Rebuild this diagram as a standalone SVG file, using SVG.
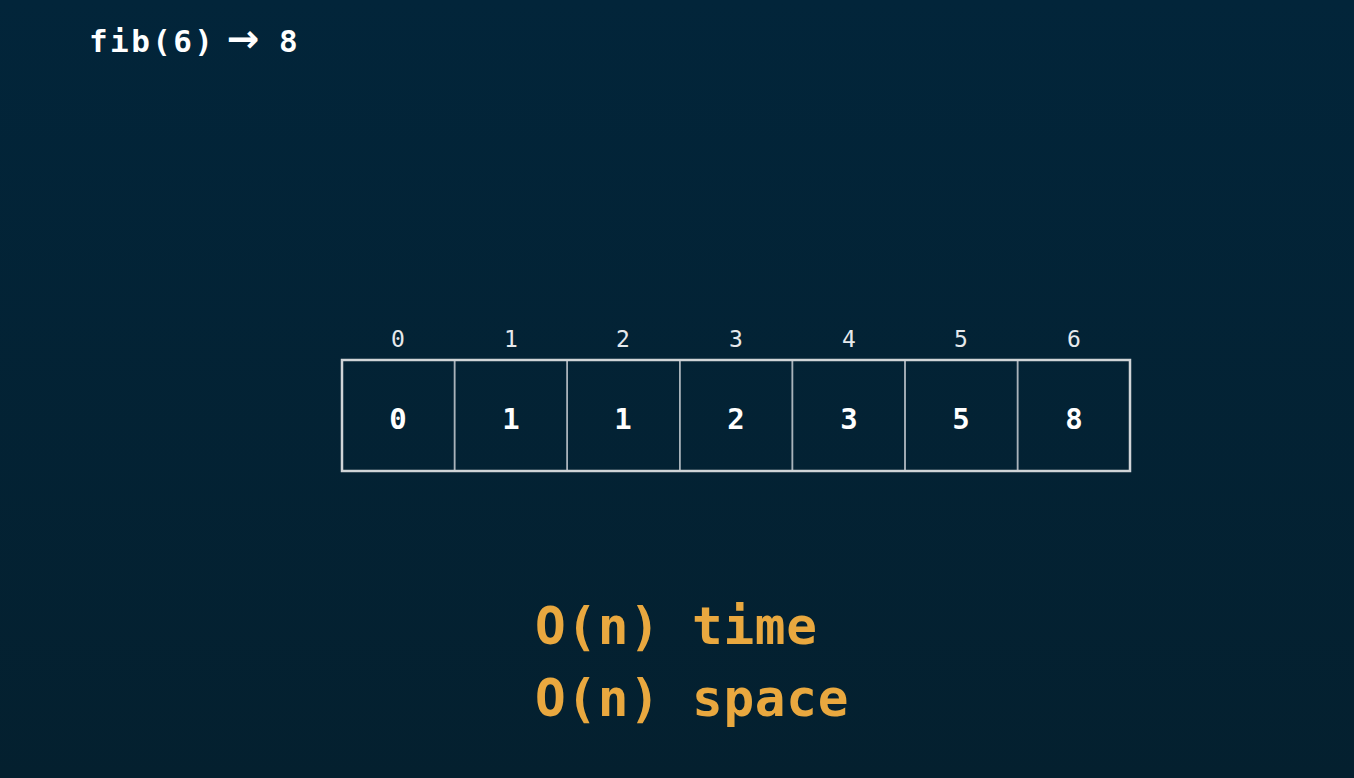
<svg xmlns="http://www.w3.org/2000/svg" width="1354" height="778" viewBox="0 0 1354 778">
  <defs>
    <linearGradient id="bg" x1="0" y1="0" x2="0" y2="1">
      <stop offset="0" stop-color="#02253a"/>
      <stop offset="1" stop-color="#04202f"/>
    </linearGradient>
    <style>
      .mono { font-family: "DejaVu Sans Mono", "Liberation Mono", monospace; }
      .title { font-size: 31px; font-weight: bold; fill: #ffffff; letter-spacing: 2.4px; }
      .arrow { font-family: "DejaVu Sans", sans-serif; font-size: 39px; letter-spacing: 0; }
      .idx { font-size: 23px; fill: #e6e9ec; text-anchor: middle; }
      .val { font-size: 29px; font-weight: bold; fill: #ffffff; text-anchor: middle; }
      .cx { font-size: 51px; font-weight: bold; fill: #e9a83f; letter-spacing: 0.7px; }
      .cell { fill: none; stroke: #a9b3ba; stroke-width: 1.5; }
      .outer { fill: none; stroke: #d0d4d7; stroke-width: 2.5; }
    </style>
  </defs>
  <rect width="1354" height="778" fill="url(#bg)"/>
  <text id="title" class="mono title" x="89" y="52">fib(6)<tspan class="arrow" x="213"> →</tspan><tspan x="258"> 8</tspan></text>
  <g id="array">
    <g id="cell0"><rect class="cell" x="342" y="360" width="112.6" height="111"/><text class="mono idx" x="398" y="347">0</text><text class="mono val" x="398" y="429">0</text></g>
    <g id="cell1"><rect class="cell" x="454.6" y="360" width="112.6" height="111"/><text class="mono idx" x="511" y="347">1</text><text class="mono val" x="511" y="429">1</text></g>
    <g id="cell2"><rect class="cell" x="567.2" y="360" width="112.6" height="111"/><text class="mono idx" x="623" y="347">2</text><text class="mono val" x="623" y="429">1</text></g>
    <g id="cell3"><rect class="cell" x="679.8" y="360" width="112.6" height="111"/><text class="mono idx" x="736" y="347">3</text><text class="mono val" x="736" y="429">2</text></g>
    <g id="cell4"><rect class="cell" x="792.4" y="360" width="112.6" height="111"/><text class="mono idx" x="849" y="347">4</text><text class="mono val" x="849" y="429">3</text></g>
    <g id="cell5"><rect class="cell" x="905" y="360" width="112.6" height="111"/><text class="mono idx" x="961" y="347">5</text><text class="mono val" x="961" y="429">5</text></g>
    <g id="cell6"><rect class="cell" x="1017.6" y="360" width="112.4" height="111"/><text class="mono idx" x="1074" y="347">6</text><text class="mono val" x="1074" y="429">8</text></g>
    <rect class="outer" x="342" y="360" width="788" height="111"/>
  </g>
  <g id="complexity">
    <text class="mono cx" x="535" y="644">O(n) time</text>
    <text class="mono cx" x="535" y="716">O(n) space</text>
  </g>
  <g id="connectors"/>
</svg>
